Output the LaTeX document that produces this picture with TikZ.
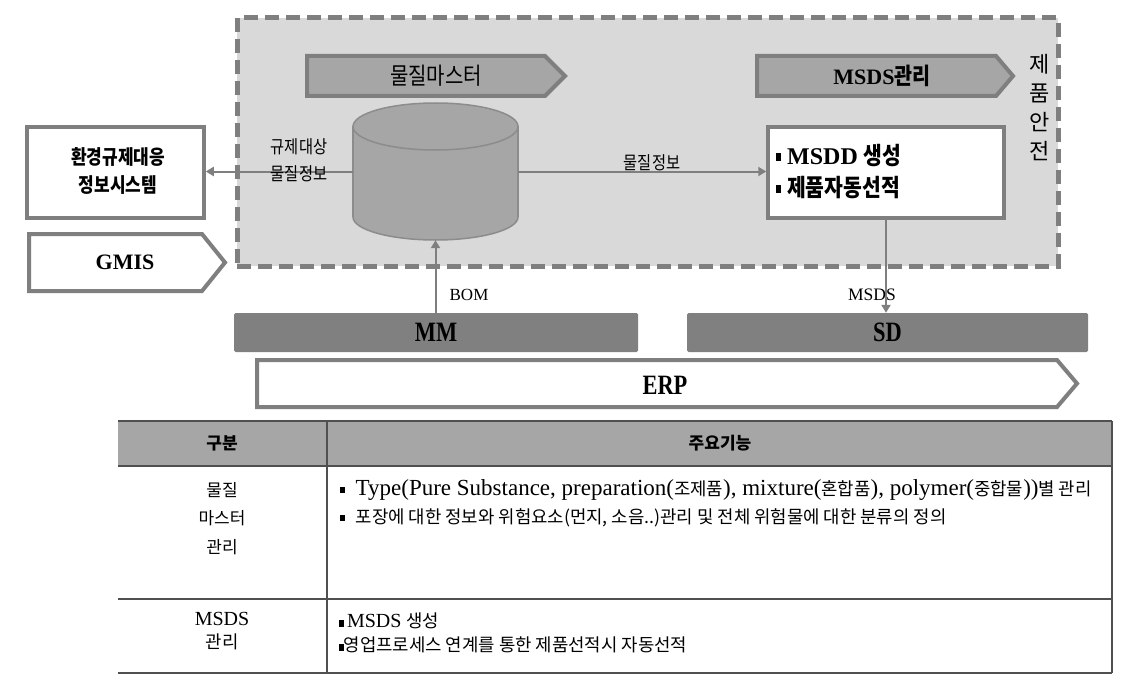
\documentclass[tikz,border=0pt]{standalone}
\usepackage{fontspec}
\setmainfont{Liberation Serif}
\newfontfamily\kr{Noto Sans CJK KR}
\newfontfamily\krc[FakeStretch=0.85]{Noto Sans CJK KR}
\newfontfamily\slab[FakeStretch=0.8]{Liberation Serif}
\usetikzlibrary{arrows.meta}
\definecolor{panel}{HTML}{D9D9D9}
\definecolor{edge}{HTML}{7F7F7F}
\definecolor{band}{HTML}{A6A6A6}
\definecolor{darkband}{HTML}{808080}
\definecolor{cylline}{HTML}{8C8C8C}
\definecolor{tline}{HTML}{505050}
\newcommand\fs[2]{\fontsize{#1}{#2}\selectfont}
\newcommand\sqb[1][0pt]{\rule[#1]{4.5pt}{6.5pt}}
\newcommand\K[1]{{\kr\fs{17.8}{20}#1}}
\begin{document}
\begin{tikzpicture}[x=1pt,y=-1pt,
  lbl/.style={inner sep=0pt, text=black},
  conn/.style={draw=edge, line width=2pt, -{Triangle[length=8pt,width=9pt]}},
  whitebox/.style={draw=edge, line width=3.5pt, fill=white, inner sep=0pt},
  banner/.style={draw=edge, line width=4pt, fill=band, line join=miter},
  pent/.style={draw=edge, line width=4pt, fill=white, line join=miter},
  bar/.style={fill=darkband, inner sep=0pt, rounded corners=1.5pt},
  tl/.style={draw=tline, line width=2pt}
]
\useasboundingbox (0,0) rectangle (1126,690);
\fill[white] (0,0) rectangle (1126,690);

% product safety panel
\node[draw=edge, fill=panel, line width=5pt, dash pattern=on 14pt off 7pt,
      minimum width=821pt, minimum height=248pt, inner sep=0pt] (safety) at (647.5,142) {};

% banners
\draw[banner] (307,56) -- (545,56) -- (565,76) -- (545,96) -- (307,96) -- cycle;
\node[lbl, font=\krc\fs{23.5}{24}] (bmat) at (436,76) {물질마스터};
\draw[banner] (757,56) -- (996,56) -- (1013,76) -- (996,96) -- (757,96) -- cycle;
\node[lbl, font=\bfseries\fs{22}{24}] (bmsds) at (882,76) {MSDS{\krc\fs{23}{24}관리}};
\node[lbl, align=center, font=\kr\fs{22}{29}] (vt) at (1040,108) {제\\품\\안\\전};

% database cylinder
\node[minimum width=165pt, minimum height=137pt, inner sep=0pt] (db) at (435.5,171.5) {};
\filldraw[fill=band, draw=cylline, line width=1.5pt] (435.5,217) ellipse [x radius=82.5, y radius=23];
\fill[band] (353,126.5) rectangle (518,217);
\draw[cylline, line width=1.5pt] (353,126.5) -- (353,217) (518,126.5) -- (518,217);
\filldraw[fill=band, draw=cylline, line width=1.5pt] (435.5,126.5) ellipse [x radius=82.5, y radius=23.5];

% left boxes
\node[whitebox, minimum width=177pt, minimum height=91pt] (env) at (115.5,172.5) {};
\node[lbl, align=center, font=\krc\bfseries\fs{20}{28}] (envt) at (118,171) {환경규제대응\\정보시스템};
\draw[pent] (29,234) -- (202,234) -- (225,262.5) -- (202,291) -- (29,291) -- cycle;
\node[lbl, font=\bfseries\fs{22}{24}] (gmis) at (125,262) {GMIS};

% MSDD box
\node[whitebox, minimum width=236pt, minimum height=91pt] (msdd) at (886,172.5) {};
\node[lbl, align=left, anchor=west, font=\bfseries\fs{24}{32}] (msddt) at (776,172) {\rule[4pt]{5pt}{8pt} MSDD {\krc 생성}\\\rule[4pt]{5pt}{8pt} {\krc 제품자동선적}};

% ERP layer
\node[bar, minimum width=404pt, minimum height=39pt, font=\slab\bfseries\fs{28}{30}] (mm) at (436,332.5) {MM};
\node[bar, minimum width=401pt, minimum height=39pt, font=\slab\bfseries\fs{28}{30}] (sd) at (887.5,332.5) {SD};
\draw[pent] (257,360) -- (1057,360) -- (1077,383.5) -- (1057,407) -- (257,407) -- cycle;
\node[lbl, font=\slab\bfseries\fs{28}{30}] (erp) at (665,385) {ERP};

% connectors
\draw[conn] (db.west) -- (db.west -| env.east);
\draw[conn] (db.east) -- (db.east -| msdd.west);
\draw[conn] (db.south |- mm.north) -- (db.south);
\draw[conn] (msdd.south) -- (msdd.south |- sd.north);
\node[lbl, align=center, font=\krc\fs{18}{27}] (lreg) at (299,160.5) {규제대상\\물질정보};
\node[lbl, font=\krc\fs{18}{20}] (lmat) at (652,163) {물질정보};
\node[lbl, font=\fs{17}{18}] (lbom) at (469,295) {BOM};
\node[lbl, font=\fs{17.5}{18}] (lmsds) at (872,295) {MSDS};

% table
\fill[band] (118,421) rectangle (1112,466);
\draw[tl] (118,421) -- (1112,421);
\draw[tl] (118,466) -- (1112,466);
\draw[tl] (118,599) -- (1112,599);
\draw[tl] (118,673) -- (1112,673);
\draw[tl] (327,421) -- (327,673);
\draw[tl] (1112,421) -- (1112,673);
\node[lbl, font=\kr\bfseries\fs{17}{20}] (h1) at (222,443) {구분};
\node[lbl, font=\kr\bfseries\fs{17}{20}] (h2) at (720,443) {주요기능};
\node[lbl, align=center, font=\kr\fs{17}{28.5}] (r1c1) at (222,518.5) {물질\\마스터\\관리};
\node[lbl, align=left, anchor=west, font=\fs{23}{28}] (r1c2) at (340,503) {\sqb[2pt]\hspace{11pt}Type(Pure Substance, preparation(\K{조제품}), mixture(\K{혼합품}), polymer(\K{중합물}))\K{별 관리}\\\sqb[2pt]\hspace{11pt}\K{포장에 대한 정보와 위험요소(먼지, 소음..)관리 및 전체 위험물에 대한 분류의 정의}};
\node[lbl, align=center, font=\fs{20}{23}] (r2c1) at (222,631.5) {MSDS\\\K{관리}};
\node[lbl, align=left, anchor=west, font=\fs{20}{24}] (r2c2) at (339,633) {\sqb[1pt]\,MSDS \K{생성}\\\sqb[1pt]\K{영업프로세스 연계를 통한 제품선적시 자동선적}};
\end{tikzpicture}
\end{document}
